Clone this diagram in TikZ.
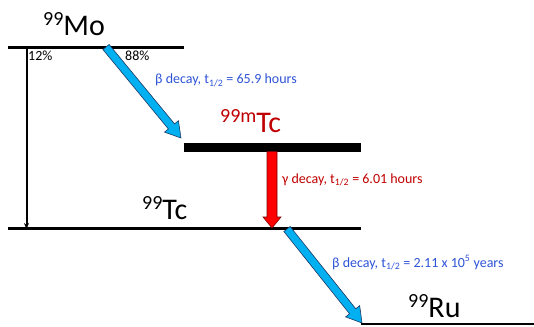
\documentclass[tikz,border=0pt]{standalone}
\usepackage{fontspec}
\setmainfont{Carlito}
\usetikzlibrary{calc,arrows.meta}
\definecolor{betablue}{RGB}{46,84,214}
\definecolor{gammared}{RGB}{192,0,0}
\definecolor{arrowcyan}{RGB}{0,176,240}
\definecolor{cyanedge}{RGB}{31,56,100}
\definecolor{rededge}{RGB}{120,0,0}
% start, end, half shaft width, half head width, head length, style
\newcommand\myfatarrow[6]{%
  \coordinate (#1#2c) at ($(#2)!#5!(#1)$);
  \draw[#6] ($(#1)!#3!90:(#2)$) -- ($(#1#2c)!#3!90:(#2)$) -- ($(#1#2c)!#4!90:(#2)$)
    -- (#2) -- ($(#1#2c)!#4!-90:(#2)$) -- ($(#1#2c)!#3!-90:(#2)$)
    -- ($(#1)!#3!-90:(#2)$) -- cycle;
}
\tikzset{
  level/.style={line width=#1, draw=black},
  big/.style={inner sep=0pt, anchor=base west, font=\fontsize{30}{30}\selectfont},
  small/.style={inner sep=0pt, anchor=base west, font=\fontsize{14}{14}\selectfont},
  betaarrow/.style={fill=arrowcyan, draw=cyanedge, line width=0.6pt, line join=miter},
  gammaarrow/.style={fill=red, draw=rededge, line width=0.6pt, line join=miter},
}
\newcommand\iso[1]{\raisebox{10pt}{\fontsize{20}{20}\selectfont #1}}
\begin{document}
\begin{tikzpicture}[x=1pt,y=-1pt]
\useasboundingbox (0,0) rectangle (534,326);
% levels
\coordinate (moL) at (8,47.5);   \coordinate (moR) at (184,47.5);
\coordinate (tcmL) at (184,147); \coordinate (tcmR) at (361,147);
\coordinate (tcL) at (8,228.5);  \coordinate (tcR) at (361,228.5);
\coordinate (ruL) at (361,324);  \coordinate (ruR) at (534,324);
\draw[level=3pt] (moL) -- (moR);
\draw[level=9pt] (tcmL) -- (tcmR);
\draw[level=3.5pt] (tcL) -- (tcR);
\draw[level=2pt] (ruL) -- (ruR);
% labels
\node[big] (mo) at (43,36) {\iso{99}Mo};
\node[big, text=gammared] (tcm) at (220,132) {\iso{99m}Tc};
\node[big] (tc) at (142,219) {\iso{99}Tc};
\node[big] (ru) at (408,317) {\iso{99}Ru};
\node[small] (p12) at (28,60.5) {12\%};
\node[small] (p88) at (125,60.5) {88\%};
\node[small, text=betablue] (b1) at (155,84) {β decay, t\textsubscript{1/2} = 65.9 hours};
\node[small, text=gammared] (g1) at (282,183) {γ decay, t\textsubscript{1/2} = 6.01 hours};
\node[small, text=betablue] (b2) at (332,267) {β decay, t\textsubscript{1/2} = 2.11 x 10\textsuperscript{5} years};
% black arrow 12%
\coordinate (kTop) at (26.5,47.5);
\coordinate (kBot) at (26.5,229);
\draw[line width=2pt, -{Stealth[length=6pt,width=5pt]}] (kTop) -- (kBot);
% fat arrows
\coordinate (a1s) at (106,47);  \coordinate (a1e) at (181,138);
\coordinate (a2s) at (287,229); \coordinate (a2e) at (362,323);
\coordinate (a3s) at (272,151.5); \coordinate (a3e) at (272,228);
\myfatarrow{a1s}{a1e}{4pt}{9pt}{15pt}{betaarrow}
\myfatarrow{a2s}{a2e}{4pt}{9pt}{15pt}{betaarrow}
\myfatarrow{a3s}{a3e}{5pt}{9pt}{11pt}{gammaarrow}
\end{tikzpicture}
\end{document}
